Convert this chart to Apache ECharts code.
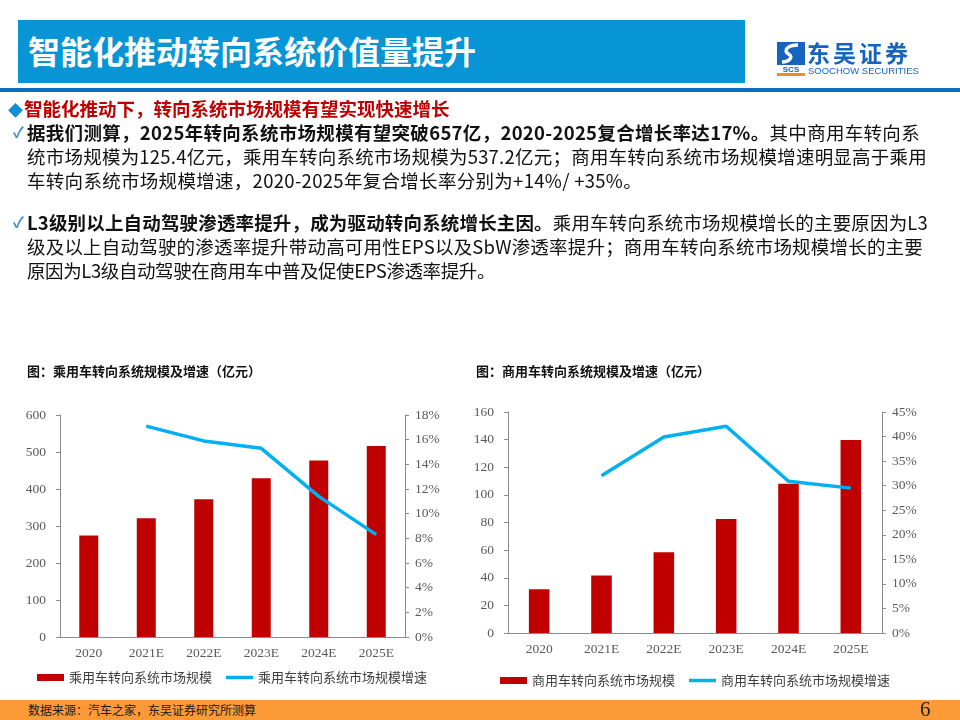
<!DOCTYPE html>
<html><head><meta charset="utf-8">
<script src="https://cdn.jsdelivr.net/npm/echarts@6/dist/echarts.min.js"></script>
<style>
body{margin:0;width:960px;height:720px;overflow:hidden;background:#fff;font-family:"Noto Sans CJK SC",sans-serif;position:relative}
.abs{position:absolute;white-space:nowrap}
#hdr{left:18px;top:20px;width:727px;height:63px;background:#0795d6}
#hdrt{left:28px;top:29px;font-size:32px;font-weight:700;color:#fff;line-height:42px}
#hline{left:0;top:88px;width:960px;height:4px;background:#0a6fbf}
#head{left:8px;top:96px;font-size:18.5px;font-weight:700;color:#c00000;line-height:24px}
#head span{color:#0d8fd6;font-size:15px;margin-right:1px}
.para{left:27px;font-size:18.5px;color:#111;line-height:24px}
.chk{position:absolute;left:-14px;color:#3a8fd6;font-size:15px;font-weight:700}
.para b{font-weight:700}
.ln{display:inline-block}
#foot{left:0;top:700px;width:960px;height:20px;background:#fb9a37}
#foott{left:28px;top:700px;font-size:12px;color:#1a1a1a;line-height:20px}
#pg{left:920px;top:697px;font-size:21px;color:#222;font-family:"Liberation Serif",serif;line-height:24px}
</style></head><body>
<div id="chart" class="abs" style="left:0;top:0;width:960px;height:720px"></div>
<div id="hdr" class="abs"></div>
<div id="hdrt" class="abs">智能化推动转向系统价值量提升</div>
<div id="hline" class="abs"></div>
<div class="abs" style="left:777px;top:42px;width:28px;height:34px;">
<svg width="28" height="34" viewBox="0 0 28 34">
<rect x="0" y="0" width="28" height="23" fill="#1565c0"/>
<path d="M21 3 C10 3 6 9 11.5 12 C17 15 12 20 5 20" stroke="#fff" stroke-width="3.5" fill="none"/>
<text x="14" y="30" font-size="8" font-weight="700" fill="#1565c0" text-anchor="middle" font-family="Liberation Sans">SCS</text>
<rect x="0" y="31" width="28" height="3" fill="#f08a24"/>
</svg></div>
<div class="abs" style="left:807px;top:39px;font-size:23px;font-weight:700;color:#1565c0;line-height:26px;letter-spacing:3px">东吴证券</div>
<div class="abs" style="left:808px;top:65px;font-size:9.5px;color:#1565c0;line-height:11px;font-family:'Liberation Sans'">SOOCHOW SECURITIES</div>
<div id="head" class="abs"><span>◆</span>智能化推动下，转向系统市场规模有望实现快速增长</div>
<div class="abs para" style="top:120px"><span class="chk">✓</span><span class="ln" data-w="893"><b>据我们测算，2025年转向系统市场规模有望突破657亿，2020-2025复合增长率达17%。</b>其中商用车转向系</span><br><span class="ln" data-w="900">统市场规模为125.4亿元，乘用车转向系统市场规模为537.2亿元；商用车转向系统市场规模增速明显高于乘用</span><br><span class="ln" data-w="615">车转向系统市场规模增速，2020-2025年复合增长率分别为+14%/ +35%。</span></div>
<div class="abs para" style="top:210px"><span class="chk">✓</span><span class="ln" data-w="901"><b>L3级别以上自动驾驶渗透率提升，成为驱动转向系统增长主因。</b>乘用车转向系统市场规模增长的主要原因为L3</span><br><span class="ln" data-w="896">级及以上自动驾驶的渗透率提升带动高可用性EPS以及SbW渗透率提升；商用车转向系统市场规模增长的主要</span><br><span class="ln" data-w="468">原因为L3级自动驾驶在商用车中普及促使EPS渗透率提升。</span></div>
<div id="foot" class="abs"></div>
<div id="foott" class="abs">数据来源：汽车之家，东吴证券研究所测算</div>
<div id="pg" class="abs">6</div>
<script>
const categories = ['2020', '2021E', '2022E', '2023E', '2024E', '2025E'];
const passengerScale = [274, 321, 372, 429, 477, 516];
const passengerGrowth = [null, 17.1, 15.9, 15.3, 11.4, 8.3];
const commercialScale = [31.7, 41.6, 58.4, 82.5, 108, 139.7];
const commercialGrowth = [null, 32.0, 39.9, 42.1, 30.9, 29.5];
const passengerNames = ['乘用车转向系统市场规模', '乘用车转向系统市场规模增速'];
const commercialNames = ['商用车转向系统市场规模', '商用车转向系统市场规模增速'];
const chartTitles = ['图：乘用车转向系统规模及增速（亿元）', '图：商用车转向系统规模及增速（亿元）'];

// fit each text line to its measured width in the reference
document.querySelectorAll('.ln').forEach(function (el) {
  const target = +el.getAttribute('data-w');
  const w = el.getBoundingClientRect().width;
  const n = el.textContent.length;
  el.style.letterSpacing = ((target - w) / n) + 'px';
});

const axisColor = '#8c8c8c';
const labelFont = {color: '#595959', fontFamily: 'Liberation Serif', fontSize: 13.5};
function xAx(gi) {
  return {type: 'category', gridIndex: gi, data: categories,
    axisLine: {lineStyle: {color: axisColor}},
    axisTick: {length: 4, lineStyle: {color: axisColor}},
    axisLabel: Object.assign({margin: 9, fontSize: 14}, labelFont)};
}
function yAx(gi, max, interval, pct, margin) {
  return {type: 'value', gridIndex: gi, min: 0, max: max, interval: interval,
    position: pct ? 'right' : 'left',
    splitLine: {show: false},
    axisLine: {show: true, lineStyle: {color: axisColor}},
    axisTick: {show: true, length: 4, lineStyle: {color: axisColor}},
    axisLabel: Object.assign({margin: margin, formatter: pct ? '{value}%' : '{value}'}, labelFont)};
}
const lineIcon = 'path://M0,0L27,0L27,3.5L0,3.5Z';
const legendText = {fontSize: 13, color: '#404040', fontFamily: 'Noto Sans CJK SC'};
const chart = echarts.init(document.getElementById('chart'));
chart.setOption({
  animation: false,
  title: [
    {text: chartTitles[0], left: 22, top: 360, textStyle: {fontSize: 13, fontWeight: 'bold', color: '#111', fontFamily: 'Noto Sans CJK SC'}},
    {text: chartTitles[1], left: 471, top: 360, textStyle: {fontSize: 13, fontWeight: 'bold', color: '#111', fontFamily: 'Noto Sans CJK SC'}}
  ],
  grid: [
    {left: 60, top: 415, width: 345, height: 222},
    {left: 508, top: 412, width: 374, height: 221}
  ],
  legend: [
    {left: 37, top: 671, padding: 0, itemWidth: 27, itemHeight: 7, itemGap: 14,
     data: [{name: passengerNames[0], icon: 'rect'}, {name: passengerNames[1], icon: lineIcon}],
     textStyle: legendText},
    {left: 500, top: 674, padding: 0, itemWidth: 27, itemHeight: 7, itemGap: 14,
     data: [{name: commercialNames[0], icon: 'rect'}, {name: commercialNames[1], icon: lineIcon}],
     textStyle: legendText}
  ],
  xAxis: [xAx(0), xAx(1)],
  yAxis: [yAx(0, 600, 100, false, 14), yAx(0, 18, 2, true, 10), yAx(1, 160, 20, false, 14), yAx(1, 45, 5, true, 10)],
  series: [
    {name: passengerNames[0], type: 'bar', xAxisIndex: 0, yAxisIndex: 0, data: passengerScale, barWidth: '33%', itemStyle: {color: '#c00000'}},
    {name: passengerNames[1], type: 'line', xAxisIndex: 0, yAxisIndex: 1, data: passengerGrowth, symbol: 'none', lineStyle: {width: 3.5, color: '#00b0f0'}, itemStyle: {color: '#00b0f0'}},
    {name: commercialNames[0], type: 'bar', xAxisIndex: 1, yAxisIndex: 2, data: commercialScale, barWidth: '33%', itemStyle: {color: '#c00000'}},
    {name: commercialNames[1], type: 'line', xAxisIndex: 1, yAxisIndex: 3, data: commercialGrowth, symbol: 'none', lineStyle: {width: 3.5, color: '#00b0f0'}, itemStyle: {color: '#00b0f0'}}
  ]
});
</script>
</body></html>
